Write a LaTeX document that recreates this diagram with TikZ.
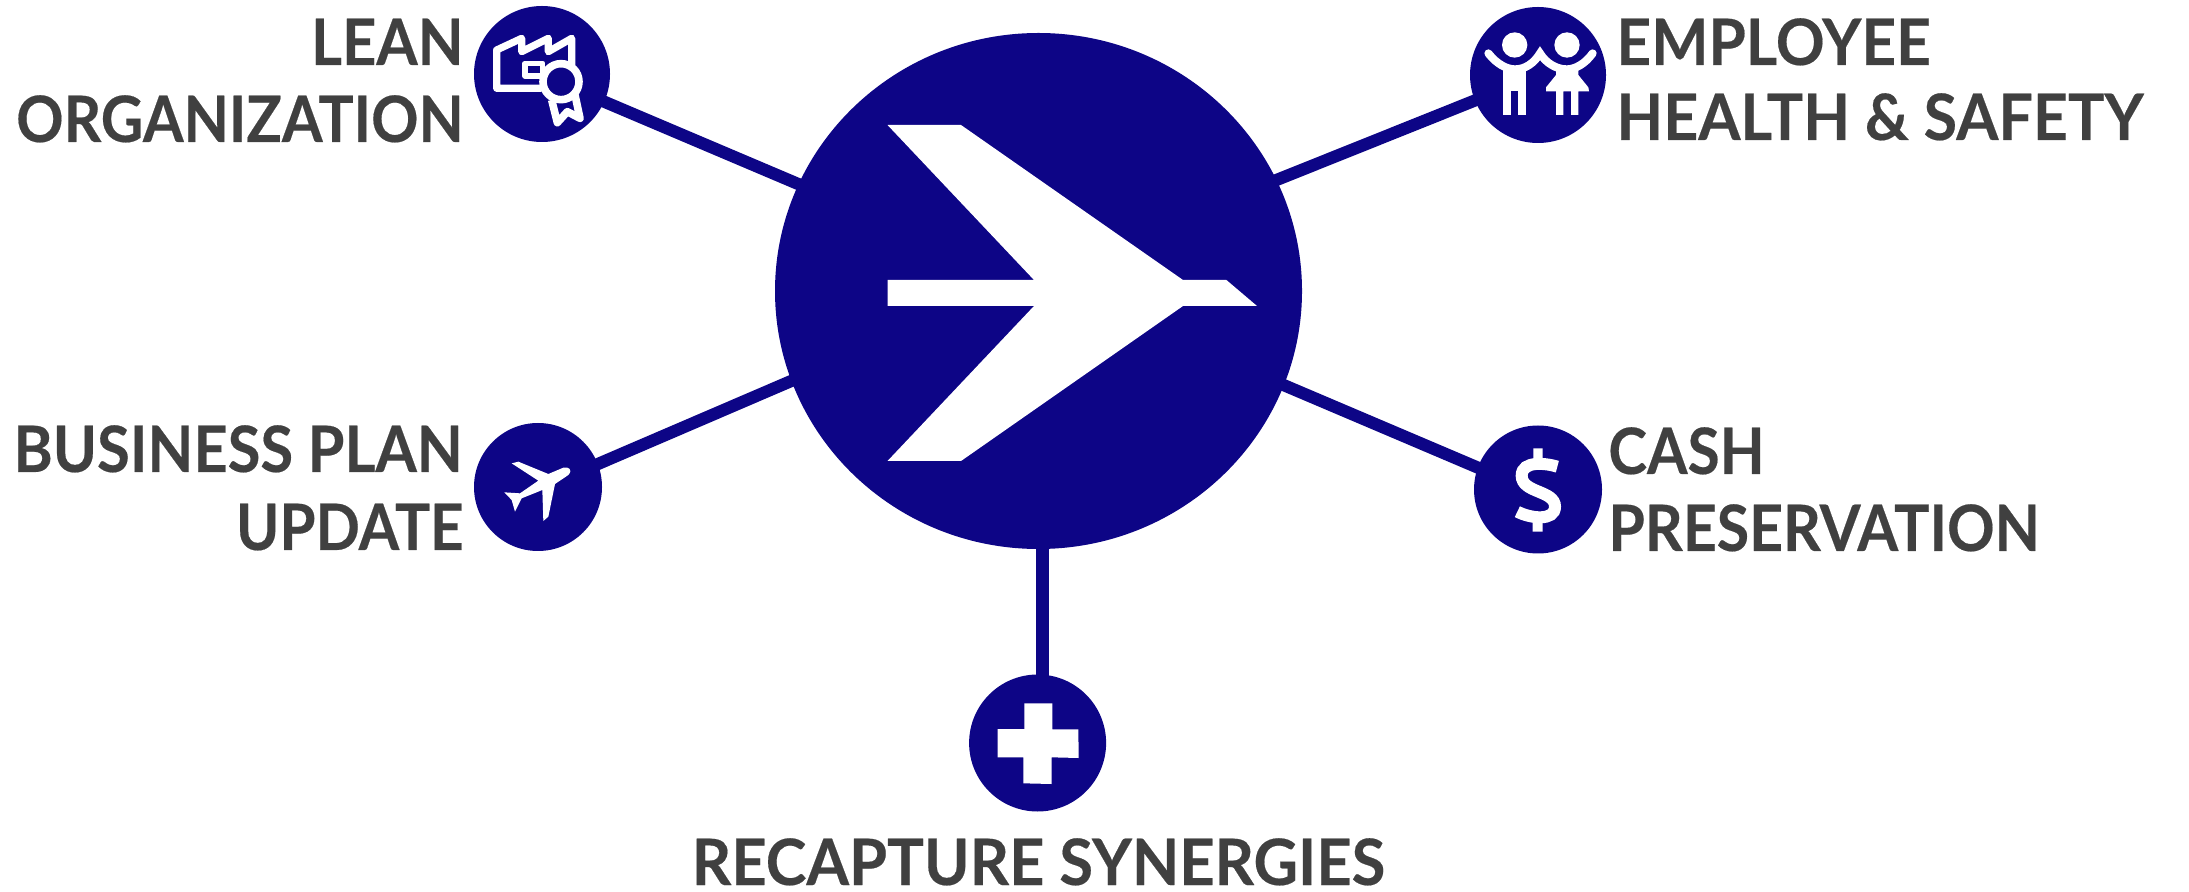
\documentclass[tikz,border=0pt]{standalone}
\usepackage{fontspec}
\usepackage{graphicx}
\setmainfont[FakeStretch=0.96,BoldFeatures={FakeBold=0.3}]{Lato}
\usetikzlibrary{shapes.geometric,backgrounds}
\definecolor{navy}{HTML}{0D0586}
\definecolor{ink}{HTML}{404040}
\newcommand{\squeezed}[2]{\scalebox{#1}[1]{#2}}
\tikzset{
  hub/.style={ellipse,fill=navy,draw=none,inner sep=0pt,minimum width=263.5pt,minimum height=258pt},
  disc/.style={circle,fill=navy,draw=none,inner sep=0pt,minimum size=#1},
  link/.style={draw=navy,line width=6.1pt,shorten <=-3pt,shorten >=-3pt},
  lab/.style={text=ink,inner sep=0pt,font=\fontsize{32pt}{32pt}\selectfont\bfseries},
  icon/.style={draw=white,line join=round,fill=none},
}
\begin{document}
\begin{tikzpicture}[x=0.5pt,y=-0.5pt]
\useasboundingbox (0,0) rectangle (2189,892);
\node[hub] (main) at (1038.5,291) {};
\node[disc=68pt] (lean) at (542,74) {};
\node[disc=68pt] (emp) at (1538,75) {};
\node[disc=64pt] (plane) at (538,487) {};
\node[disc=64pt] (cash) at (1538,489.5) {};
\node[disc=68.5pt] (plus) at (1037.6,743) {};
\begin{scope}[on background layer]
\draw[link] (lean.-24) -- (main.156);
\draw[link] (emp.202) -- (main.25);
\draw[link] (plane.21.6) -- (main.200.4);
\draw[link] (cash.160.3) -- (main.-21.2);
\draw[link] (plus.86.3) -- (plus.86.3 |- main.south);
\end{scope}
% arrow
\fill[white] (887.5,125) -- (961,125) -- (1183,280) -- (1226.4,280) -- (1257,306) -- (1183,306) -- (961,461) -- (887.5,461) -- (1034,306) -- (887.5,306) -- (887.5,280) -- (1034,280) -- cycle;
% lean icon
\begin{scope}[shift={(460,0)},x=0.16667pt,y=-0.16667pt]
\draw[icon,line width=3.6pt] (245,265) -- (110,265) -- (110,150) -- (185,115) -- (185,155) -- (265,115) -- (265,155) -- (335,115) -- (335,195);
\draw[icon,line width=2.8pt] (195,190) rectangle (248,228);
\draw[icon,line width=3.8pt] (275,300) -- (292,368) -- (322,335) -- (360,355) -- (345,285);
\draw[icon,line width=3.8pt,fill=navy] (303,245) circle (54);
\end{scope}
% employee icon
\begin{scope}[shift={(1460,0)},x=0.16667pt,y=-0.16667pt]
\fill[white] (164,135) circle (38) (321,135) circle (38);
\draw[white,line width=4pt,line cap=round] (85,160) .. controls (110,192) and (140,208) .. (165,208) .. controls (195,208) and (222,190) .. (240,160) .. controls (258,190) and (290,208) .. (320,208) .. controls (345,208) and (375,192) .. (398,160);
\fill[white] (130,200) rectangle (197,345);
\fill[navy] (153,272) rectangle (175,345);
\fill[white] (288,200) -- (355,200) -- (355,225) -- (385,262) -- (387,274) -- (355,274) -- (355,345) -- (333,345) -- (333,274) -- (310,274) -- (310,345) -- (288,345) -- (288,274) -- (258,274) -- (258,262) -- (288,225) -- cycle;
\end{scope}
% plane icon
\begin{scope}[shift={(460,410)},x=0.16667pt,y=-0.16667pt]
\fill[white] (155,160) -- (175,155) -- (265,192) -- (310,173) .. controls (325,170) and (340,178) .. (325,195) -- (285,222) -- (265,320) -- (250,333) -- (247,240) -- (185,265) -- (165,305) -- (155,270) -- (133,247) -- (180,250) -- (235,212) -- cycle;
\end{scope}
% dollar icon
\begin{scope}[shift={(1460,410)},x=0.16667pt,y=-0.16667pt]
\fill[white] (220,115) rectangle (248,150) (218,330) rectangle (248,365);
\draw[white,line width=6pt] (292,170) .. controls (260,160) and (185,150) .. (185,197) .. controls (185,250) and (285,240) .. (285,290) .. controls (285,335) and (210,325) .. (172,305);
\end{scope}
% plus icon
\begin{scope}[shift={(960,670)},x=0.16667pt,y=-0.16667pt]
\fill[white] (193,100) -- (277,100) -- (277,178) -- (355,178) -- (356,264) -- (275,262) -- (275,342) -- (190,340) -- (190,262) -- (113,262) -- (113,177) -- (193,177) -- cycle;
\end{scope}
% labels
\node[lab,anchor=base east] (t1) at (464,65) {\squeezed{0.97}{LEAN}};
\node[lab,anchor=base east] (t2) at (464,142) {\squeezed{0.955}{ORGANIZATION}};
\node[lab,anchor=base west] (t3) at (1616,65) {\squeezed{0.985}{EMPLOYEE}};
\node[lab,anchor=base west] (t4) at (1616,140) {\squeezed{0.99}{HEALTH \& SAFETY}};
\node[lab,anchor=base east] (t5) at (463,472) {\squeezed{0.97}{BUSINESS PLAN}};
\node[lab,anchor=base east] (t6) at (464,550) {\squeezed{0.95}{UPDATE}};
\node[lab,anchor=base west] (t7) at (1608,474) {\squeezed{0.95}{CASH}};
\node[lab,anchor=base west] (t8) at (1608,551) {\squeezed{0.96}{PRESERVATION}};
\node[lab,anchor=base] (t9) at (1038.5,885) {RECAPTURE SYNERGIES};
\end{tikzpicture}
\end{document}
